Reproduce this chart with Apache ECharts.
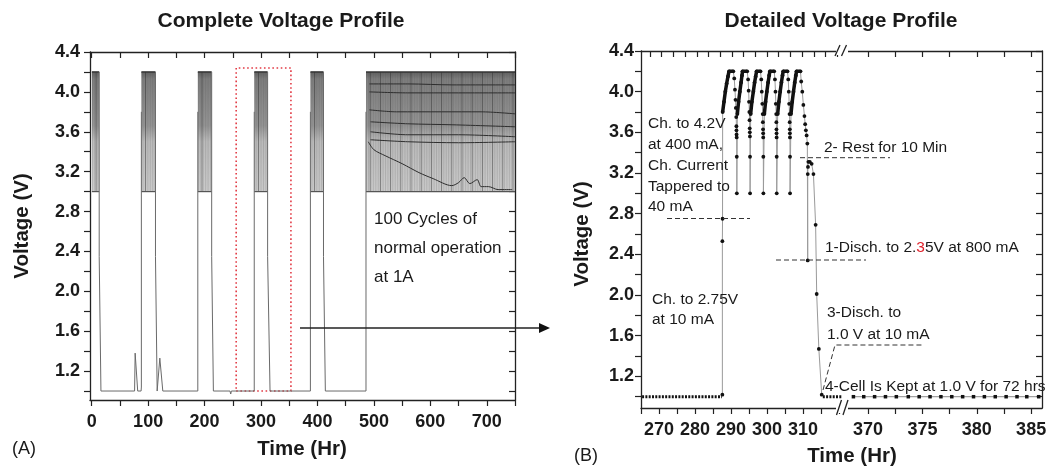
<!DOCTYPE html>
<html>
<head>
<meta charset="utf-8">
<script src="https://cdn.jsdelivr.net/npm/echarts@6/dist/echarts.min.js"></script>
<style>
  html, body { margin: 0; padding: 0; background: #fff; }
  #chart { width: 1050px; height: 467px; }
</style>
</head>
<body>
<div id="chart"></div>
<script>
const FONT = 'Arial, "Liberation Sans", Helvetica, sans-serif'

// ---------- Panel A : complete voltage profile ----------
const aXLabels = [0, 100, 200, 300, 400, 500, 600, 700]
const aXTicks = [0, 50, 100, 150, 200, 250, 300, 350, 400, 450, 500, 550, 600, 650, 700, 750]
const vLabels = [1.2, 1.6, 2.0, 2.4, 2.8, 3.2, 3.6, 4.0, 4.4]
const vTicks = [1.0, 1.2, 1.4, 1.6, 1.8, 2.0, 2.2, 2.4, 2.6, 2.8, 3.0, 3.2, 3.4, 3.6, 3.8, 4.0, 4.2, 4.4]

// cycling blocks: [start hr, end hr, low V, high V]
const aCycleBlocks = [
  [0.3, 13.3, 3.0, 4.2],
  [88, 113, 3.0, 4.2],
  [188, 212.6, 3.0, 4.2],
  [288, 311.7, 3.0, 4.2],
  [387.5, 410.7, 3.0, 4.2],
  [486, 750, 3.0, 4.2]
]

// discharge / rest path between the blocks (null = gap)
const aRestPath = [
  [13.3, 4.2], [13.3, 2.35], [16.4, 1.0], [76, 1.0], [77, 1.38], [81.5, 1.0], [87.5, 1.0], [88, 1.04], [88, 3.8], null,
  [113, 4.2], [113, 2.35], [116, 1.0], [119, 1.0], [120.7, 1.33], [126, 1.0], [188, 1.0], [188, 3.8], null,
  [212.6, 4.2], [212.6, 2.35], [215.6, 1.0], [245, 1.0], [246.3, 0.97], [247.5, 1.0], [288, 1.0], [288, 3.8], null,
  [311.7, 4.2], [311.7, 2.35], [316, 1.0], [387.5, 1.0], [387.5, 3.8], null,
  [410.7, 4.2], [410.7, 2.35], [414, 1.0], [486, 1.0], [486, 3.8]
]

// sampled voltage traces visible inside the 100-cycle block
const aTrace1 = [[492, 4.08], [560, 4.08], [640, 4.07], [750, 4.07]]
const aTrace2 = [[492, 4.00], [560, 3.99], [650, 3.99], [750, 3.99]]
const aTrace3 = [[492, 3.82], [540, 3.80], [620, 3.80], [690, 3.80], [750, 3.78]]
const aTrace4 = [[494, 3.70], [560, 3.68], [640, 3.67], [750, 3.65]]
const aTrace5 = [[494, 3.60], [560, 3.57], [650, 3.57], [750, 3.55]]
const aTrace6 = [[494, 3.52], [560, 3.50], [650, 3.49], [750, 3.50]]
const aTrace7 = [[490, 3.50], [500, 3.42], [520, 3.36], [550, 3.28], [580, 3.19], [605, 3.13], [638, 3.06],
  [650, 3.09], [660, 3.14], [670, 3.08], [683, 3.12], [690, 3.05], [703, 3.05], [720, 3.02], [745, 3.02]]

// zoom box marking the detailed window
const aZoomBox = [[256, 1.0], [353, 4.24]]

// ---------- Panel B : detailed voltage profile ----------
const bXLabelsLeft = [270, 280, 290, 300, 310]
const bXTicksLeft = [265, 270, 275, 280, 285, 290, 295, 300, 305, 310, 315, 320]
const bXTopTicksLeft = [267.5, 270.75, 274, 277.25, 280.5, 283.75, 287, 290.25, 293.5, 296.75, 300, 303.25, 306.5, 309.75, 313, 316.25, 319.5]
const bXLabelsRight = [370, 375, 380, 385]
const bXTicksRight = [370, 372.5, 375, 377.5, 380, 382.5, 385]

const bRestBefore = [[265.3, 1.0], [287.5, 1.0]]
const bFirstCharge = [[287.6, 1.02], [287.6, 2.53], [287.65, 2.75]]
const bCharge1 = [[287.68, 3.80], [288.05, 3.90], [288.42, 4.00], [288.79, 4.08], [289.16, 4.15], [289.44, 4.20], [290.65, 4.20]]
const bRelax1 = [[290.9, 4.13], [291.1, 4.02], [291.25, 3.92], [291.35, 3.84], [291.45, 3.75], [291.5, 3.66], [291.52, 3.62], [291.55, 3.58], [291.58, 3.55], [291.6, 3.36], [291.62, 3.0]]
const bCharge2 = [[291.76, 3.78], [292.1, 3.90], [292.45, 4.00], [292.8, 4.09], [293.05, 4.16], [293.2, 4.20], [294.5, 4.20]]
const bRelax2 = [[294.75, 4.12], [294.9, 4.01], [295.0, 3.90], [295.1, 3.80], [295.15, 3.72], [295.2, 3.64], [295.22, 3.60], [295.25, 3.56], [295.28, 3.36], [295.3, 3.0]]
const bCharge3 = [[295.46, 3.78], [295.8, 3.90], [296.2, 4.00], [296.55, 4.09], [296.85, 4.15], [297.1, 4.20], [298.2, 4.20]]
const bRelax3 = [[298.4, 4.12], [298.55, 4.00], [298.7, 3.88], [298.8, 3.78], [298.85, 3.70], [298.9, 3.63], [298.93, 3.59], [298.95, 3.55], [298.98, 3.36], [299.0, 3.0]]
const bCharge4 = [[299.26, 3.78], [299.6, 3.90], [299.95, 4.00], [300.3, 4.09], [300.6, 4.16], [300.8, 4.20], [302.0, 4.20]]
const bRelax4 = [[302.2, 4.12], [302.35, 4.00], [302.45, 3.88], [302.55, 3.78], [302.6, 3.70], [302.63, 3.63], [302.65, 3.59], [302.67, 3.55], [302.69, 3.36], [302.7, 3.0]]
const bCharge5 = [[302.96, 3.78], [303.3, 3.90], [303.65, 4.00], [304.0, 4.09], [304.3, 4.16], [304.5, 4.20], [305.7, 4.20]]
const bRelax5 = [[305.9, 4.12], [306.05, 4.00], [306.15, 3.88], [306.25, 3.78], [306.3, 3.70], [306.33, 3.63], [306.35, 3.59], [306.37, 3.55], [306.39, 3.36], [306.4, 3.0]]
const bCharge6 = [[306.66, 3.78], [307.0, 3.90], [307.35, 4.00], [307.7, 4.09], [308.0, 4.16], [308.2, 4.20], [309.3, 4.20]]
const bFinalDischarge = [[309.5, 4.10], [309.8, 4.00], [310.1, 3.87], [310.4, 3.76], [310.6, 3.68], [310.8, 3.62], [311.0, 3.57], [311.2, 3.49],
  [311.3, 2.34], [311.32, 3.19], [311.38, 3.26], [311.5, 3.31], [311.9, 3.31], [312.4, 3.29], [312.9, 3.19],
  [313.5, 2.69], [313.8, 2.01], [314.4, 1.47], [315.2, 1.02]]
const bRestAfter = [[315.5, 1.0], [320.7, 1.0]]
const bRestRight = [[368.65, 1.0], [369.6, 1.0], [370.6, 1.0], [371.6, 1.0], [372.6, 1.0], [373.7, 1.0], [374.7, 1.0], [375.7, 1.0],
  [376.7, 1.0], [377.7, 1.0], [378.7, 1.0], [379.7, 1.0], [380.7, 1.0], [381.7, 1.0], [382.7, 1.0], [383.7, 1.0], [384.6, 1.0], [385.7, 1.0]]

const bCharges = [bCharge1, bCharge2, bCharge3, bCharge4, bCharge5, bCharge6]
const bRelaxes = [bRelax1, bRelax2, bRelax3, bRelax4, bRelax5, bFinalDischarge]

// full profile in time order
let bProfile = bFirstCharge.slice()
bCharges.forEach((c, i) => { bProfile = bProfile.concat(c, bRelaxes[i]) })
// charging curves drawn heavy (dense sampling in the original)
let bChargeLines = []
bCharges.forEach(c => { bChargeLines = bChargeLines.concat(c, [null]) })

const chart = echarts.init(document.getElementById('chart'))

function axis(o) {
  return {
    type: 'value', gridIndex: o.grid, position: o.pos, min: o.min, max: o.max,
    axisLine: {show: true, onZero: false, lineStyle: {color: '#222', width: 1.3}},
    axisTick: {show: true, inside: !!o.inside, length: 6, customValues: o.ticks, lineStyle: {color: '#222', width: 1.2}},
    axisLabel: o.labels ? {
      show: true, customValues: o.labels, margin: o.margin, color: '#1a1a1a',
      fontSize: 18, fontWeight: 'bold', fontFamily: FONT, formatter: o.fmt
    } : {show: false},
    splitLine: {show: false}
  }
}
const fmt1 = v => v.toFixed(1)

function renderBlock(params, api) {
  const p0 = api.coord([api.value(0), api.value(3)])
  const p1 = api.coord([api.value(1), api.value(2)])
  const x0 = p0[0], y0 = p0[1], x1 = p1[0], y1 = p1[1]
  const children = [{
    type: 'rect',
    shape: {x: x0, y: y0, width: x1 - x0, height: y1 - y0},
    style: {
      fill: new echarts.graphic.LinearGradient(0, 0, 0, 1, [
        {offset: 0, color: '#636363'},
        {offset: 0.06, color: '#828282'},
        {offset: 0.45, color: '#9a9a9a'},
        {offset: 0.58, color: '#c4c4c4'},
        {offset: 1, color: '#d4d4d4'}
      ])
    }
  }]
  // vertical stripes = individual cycles
  let i = 0
  for (let x = x0 + 0.8; x < x1; x += 1.7, i++) {
    children.push({
      type: 'line', shape: {x1: x, y1: y0, x2: x, y2: y1},
      style: {stroke: i % 6 === 2 ? 'rgba(40,40,40,0.75)' : 'rgba(80,80,80,0.35)', lineWidth: 0.7}
    })
  }
  children.push({type: 'line', shape: {x1: x0, y1: y0, x2: x1, y2: y0}, style: {stroke: '#333', lineWidth: 1.5}})
  children.push({type: 'line', shape: {x1: x0, y1: y1, x2: x1, y2: y1}, style: {stroke: '#555', lineWidth: 1.2}})
  return {type: 'group', children}
}

const traceSeries = [aTrace1, aTrace2, aTrace3, aTrace4, aTrace5, aTrace6, aTrace7].map(d => ({
  type: 'line', xAxisIndex: 0, yAxisIndex: 0, data: d, symbol: 'none', smooth: 0.3,
  lineStyle: {color: '#2e2e2e', width: 1}, z: 3, silent: true
}))

function text(x, y, t, size, weight, align) {
  return {
    type: 'text', x, y, z: 100,
    style: {text: t, fontSize: size, fontWeight: weight, fontFamily: FONT, fill: '#1a1a1a', align: align || 'left', verticalAlign: 'middle'}
  }
}
function vtext(x, y, t, size) {
  const el = text(x, y, t, size, 'bold', 'center')
  el.rotation = Math.PI / 2
  return el
}
function dashed(points) {
  return {type: 'polyline', z: 100, shape: {points}, style: {stroke: '#333', lineWidth: 1, lineDash: [5, 3], fill: null}}
}
function seg(x1, y1, x2, y2, w) {
  return {type: 'line', z: 101, shape: {x1, y1, x2, y2}, style: {stroke: '#222', lineWidth: w || 1.3}}
}

chart.setOption({
  animation: false,
  backgroundColor: '#fff',
  grid: [
    {left: 90, top: 52, width: 425, height: 348},
    {left: 641, top: 51, width: 201, height: 357},
    {left: 842, top: 51, width: 200, height: 357}
  ],
  xAxis: [
    axis({grid: 0, pos: 'bottom', min: -3, max: 750, ticks: aXTicks, labels: aXLabels, margin: 13}),
    axis({grid: 0, pos: 'top', min: -3, max: 750, ticks: aXTicks, inside: true}),
    axis({grid: 1, pos: 'bottom', min: 265, max: 320.83, ticks: bXTicksLeft, labels: bXLabelsLeft, margin: 13}),
    axis({grid: 1, pos: 'top', min: 265, max: 320.83, ticks: bXTopTicksLeft, inside: true}),
    axis({grid: 2, pos: 'bottom', min: 367.6, max: 386, ticks: bXTicksRight, labels: bXLabelsRight, margin: 13}),
    axis({grid: 2, pos: 'top', min: 367.6, max: 386, ticks: bXTicksRight, inside: true})
  ],
  yAxis: [
    axis({grid: 0, pos: 'left', min: 0.91, max: 4.4, ticks: vTicks, labels: vLabels, margin: 10, fmt: fmt1}),
    axis({grid: 0, pos: 'right', min: 0.91, max: 4.4, ticks: vTicks, inside: true}),
    axis({grid: 1, pos: 'left', min: 0.889, max: 4.4, ticks: vTicks, labels: vLabels, margin: 7, fmt: fmt1}),
    axis({grid: 2, pos: 'right', min: 0.889, max: 4.4, ticks: vTicks, inside: true})
  ],
  series: [
    {
      type: 'custom', xAxisIndex: 0, yAxisIndex: 0, data: aCycleBlocks,
      encode: {x: [0, 1], y: [2, 3]}, renderItem: renderBlock, z: 1, silent: true
    },
    ...traceSeries,
    {
      type: 'line', xAxisIndex: 0, yAxisIndex: 0, data: aRestPath, symbol: 'none',
      lineStyle: {color: '#6a6a6a', width: 1}, z: 4,
      markArea: {
        silent: true,
        itemStyle: {color: 'rgba(0,0,0,0)', borderColor: '#e23b45', borderWidth: 1.6, borderType: [1.6, 2.6]},
        data: [[{coord: aZoomBox[0]}, {coord: aZoomBox[1]}]]
      }
    },
    // panel B
    {
      type: 'line', xAxisIndex: 2, yAxisIndex: 2, data: bRestBefore, symbol: 'none',
      lineStyle: {color: '#111', width: 3, type: [2, 1.3], cap: 'butt'}, z: 4
    },
    {
      type: 'line', xAxisIndex: 2, yAxisIndex: 2, data: bRestAfter, symbol: 'none',
      lineStyle: {color: '#111', width: 3, type: [2, 1.3], cap: 'butt'}, z: 4
    },
    {
      type: 'line', xAxisIndex: 2, yAxisIndex: 2, data: bProfile, showAllSymbol: true,
      symbol: 'circle', symbolSize: 3.8, itemStyle: {color: '#111'},
      lineStyle: {color: '#9a9a9a', width: 1}, z: 4
    },
    {
      type: 'line', xAxisIndex: 2, yAxisIndex: 2, data: bChargeLines, symbol: 'none', connectNulls: false,
      lineStyle: {color: '#111', width: 3.5}, z: 5
    },
    {
      type: 'line', xAxisIndex: 4, yAxisIndex: 3, data: bRestRight, showAllSymbol: true,
      symbol: 'rect', symbolSize: 3.5, itemStyle: {color: '#111'},
      lineStyle: {color: '#8a8a8a', width: 1}, z: 4
    }
  ],
  graphic: [
    // titles
    text(281, 21, 'Complete Voltage Profile', 21, 'bold', 'center'),
    text(841, 21, 'Detailed Voltage Profile', 21, 'bold', 'center'),
    // axis names
    vtext(22, 226, 'Voltage (V)', 20.5),
    vtext(582, 234, 'Voltage (V)', 20.5),
    text(302, 449, 'Time (Hr)', 20.5, 'bold', 'center'),
    text(852, 456, 'Time (Hr)', 20.5, 'bold', 'center'),
    text(12, 449, '(A)', 18, 'normal'),
    text(574, 456, '(B)', 18, 'normal'),
    // panel A notes
    text(374, 219, '100 Cycles of', 17, 'normal'),
    text(374, 248, 'normal operation', 17, 'normal'),
    text(374, 277, 'at 1A', 17, 'normal'),
    seg(300, 328, 541, 328, 1.3),
    {type: 'polygon', z: 101, shape: {points: [[550, 328], [539, 323], [539, 333]]}, style: {fill: '#111'}},
    // panel B notes
    text(648, 124, 'Ch. to 4.2V', 15.5, 'normal'),
    text(648, 145, 'at 400 mA,', 15.5, 'normal'),
    text(648, 166, 'Ch. Current', 15.5, 'normal'),
    text(648, 187, 'Tappered to', 15.5, 'normal'),
    text(648, 207, '40 mA', 15.5, 'normal'),
    dashed([[667, 218.5], [750, 218.5]]),
    text(824, 148, '2- Rest for 10 Min', 15.5, 'normal'),
    dashed([[800, 157.7], [890, 157.7]]),
    {type: 'text', x: 825, y: 248, z: 100,
      style: {text: '1-Disch. to 2.{r|3}5V at 800 mA', fontSize: 15.5, fontFamily: FONT, fill: '#1a1a1a', align: 'left', verticalAlign: 'middle',
        rich: {r: {fill: '#e0202a', fontSize: 15.5, fontFamily: FONT}}}},
    dashed([[776, 260], [866, 260]]),
    text(652, 300, 'Ch. to 2.75V', 15.5, 'normal'),
    text(652, 320, 'at 10 mA', 15.5, 'normal'),
    text(827, 313, '3-Disch. to', 15.5, 'normal'),
    text(827, 335, '1.0 V at 10 mA', 15.5, 'normal'),
    dashed([[823, 390], [835, 345], [923, 345]]),
    text(825, 387, '4-Cell Is Kept at 1.0 V for 72 hrs', 15.5, 'normal'),
    // axis break marks
    {type: 'rect', z: 100, shape: {x: 836, y: 403, width: 12, height: 10}, style: {fill: '#fff'}},
    seg(836.5, 415, 841.5, 400), seg(843, 415, 848, 400),
    {type: 'rect', z: 100, shape: {x: 836, y: 46, width: 12, height: 9}, style: {fill: '#fff'}},
    seg(835, 56, 840, 45), seg(841.5, 56, 846.5, 45)
  ]
})
</script>
</body>
</html>
